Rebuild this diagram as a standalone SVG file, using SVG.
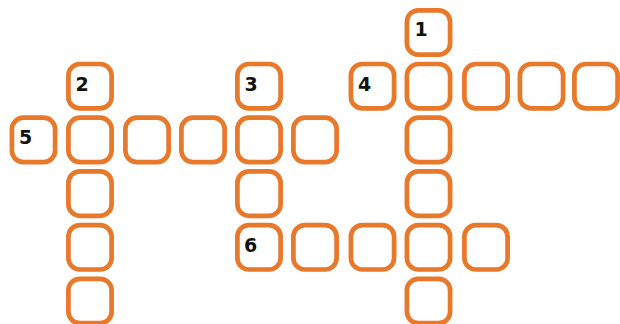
<svg xmlns="http://www.w3.org/2000/svg" width="620" height="324" viewBox="0 0 620 324">
<style>
.c{fill:#fff;stroke:#E8782A;stroke-width:4.7}
.n{font-family:"DejaVu Sans","Liberation Sans",sans-serif;font-weight:bold;font-size:19px;fill:#111}
</style>
<defs>
<rect id="cell" class="c" x="-21.6" y="-22.2" width="43.2" height="44.4" rx="11.5" ry="11.5"/>
</defs>
<rect width="620" height="324" fill="#fff"/>
<g id="connectors"></g>
<g id="cells">
<g id="r0c7" transform="translate(428.5,32.5)"><use href="#cell"/><text class="n" x="-14" y="3.5">1</text></g>

<g id="r1c1" transform="translate(90,86.2)"><use href="#cell"/><text class="n" x="-14.5" y="4.5">2</text></g>
<g id="r1c4" transform="translate(259,86.2)"><use href="#cell"/><text class="n" x="-14.5" y="4.5">3</text></g>
<g id="r1c6" transform="translate(372.5,86.2)"><use href="#cell"/><text class="n" x="-14.5" y="4.5">4</text></g>
<g id="r1c7" transform="translate(428.5,86.2)"><use href="#cell"/></g>
<g id="r1c8" transform="translate(486,86.2)"><use href="#cell"/></g>
<g id="r1c9" transform="translate(541.5,86.2)"><use href="#cell"/></g>
<g id="r1c10" transform="translate(596,86.2)"><use href="#cell"/></g>

<g id="r2c0" transform="translate(33.5,139.9)"><use href="#cell"/><text class="n" x="-14.5" y="4">5</text></g>
<g id="r2c1" transform="translate(90,139.9)"><use href="#cell"/></g>
<g id="r2c2" transform="translate(147,139.9)"><use href="#cell"/></g>
<g id="r2c3" transform="translate(203,139.9)"><use href="#cell"/></g>
<g id="r2c4" transform="translate(259,139.9)"><use href="#cell"/></g>
<g id="r2c5" transform="translate(315,139.9)"><use href="#cell"/></g>
<g id="r2c7" transform="translate(428.5,139.9)"><use href="#cell"/></g>

<g id="r3c1" transform="translate(90,193.6)"><use href="#cell"/></g>
<g id="r3c4" transform="translate(259,193.6)"><use href="#cell"/></g>
<g id="r3c7" transform="translate(428.5,193.6)"><use href="#cell"/></g>

<g id="r4c1" transform="translate(90,247.3)"><use href="#cell"/></g>
<g id="r4c4" transform="translate(259,247.3)"><use href="#cell"/><text class="n" x="-15" y="5">6</text></g>
<g id="r4c5" transform="translate(315,247.3)"><use href="#cell"/></g>
<g id="r4c6" transform="translate(372.5,247.3)"><use href="#cell"/></g>
<g id="r4c7" transform="translate(428.5,247.3)"><use href="#cell"/></g>
<g id="r4c8" transform="translate(486,247.3)"><use href="#cell"/></g>

<g id="r5c1" transform="translate(90,301)"><use href="#cell"/></g>
<g id="r5c7" transform="translate(428.5,301)"><use href="#cell"/></g>
</g>
</svg>
